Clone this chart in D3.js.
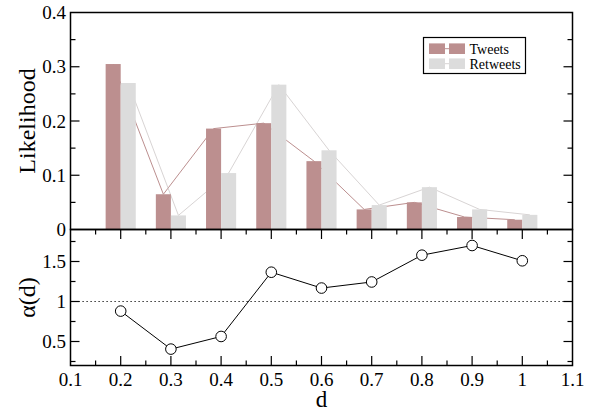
<!DOCTYPE html>
<html>
<head>
<meta charset="utf-8">
<script src="https://cdn.jsdelivr.net/npm/d3@7/dist/d3.min.js"></script>
<style>
  html, body { margin: 0; padding: 0; background: #fff; }
  svg { display: block; }
</style>
</head>
<body>
<svg id="chart" width="596" height="412"></svg>
<script>
// ---- data ----
const dValues   = [0.2, 0.3, 0.4, 0.5, 0.6, 0.7, 0.8, 0.9, 1.0];
const tweets    = [0.305, 0.065, 0.186, 0.196, 0.126, 0.037, 0.050, 0.023, 0.018];
const retweets  = [0.270, 0.026, 0.104, 0.267, 0.146, 0.045, 0.078, 0.037, 0.027];
const alphaVals = [0.88, 0.405, 0.563, 1.366, 1.168, 1.244, 1.579, 1.70, 1.509];
const xTicks    = [0.1, 0.2, 0.3, 0.4, 0.5, 0.6, 0.7, 0.8, 0.9, 1.0, 1.1];
const xTickLabels = ["0.1", "0.2", "0.3", "0.4", "0.5", "0.6", "0.7", "0.8", "0.9", "1", "1.1"];
const topTicks  = [0, 0.1, 0.2, 0.3, 0.4];
const topTickLabels = ["0", "0.1", "0.2", "0.3", "0.4"];
const botTicks  = [0.5, 1, 1.5];
const botTickLabels = ["0.5", "1", "1.5"];
const seriesNames = ["Tweets", "Retweets"];
const seriesColors = ["#bc8f8f", "#dcdcdc"];
const lineColors = ["#bc8f8f", "#d8d4d4"];

// ---- layout ----
const L = 70.5, R = 572.5;
const topY0 = 12.5, topY1 = 229.5, botY1 = 365.5;
const barW = 0.03;
const FONT = "'Liberation Serif', serif";

const svg = d3.select("#chart");
const x = d3.scaleLinear().domain([0.1, 1.1]).range([L, R]);
const yTop = d3.scaleLinear().domain([0, 0.4]).range([topY1, topY0]);
const yBot = d3.scaleLinear().domain([0.2, 1.9]).range([botY1, topY1]);

const minorX = d3.range(0.15, 1.1, 0.1);
const minorTop = d3.range(0.05, 0.4, 0.1);
const minorBot = [0.25, 0.75, 1.25, 1.75];

// ---- top panel: lines (behind bars) ----
const series = [tweets, retweets];
series.forEach((vals, si) => {
  const off = si === 0 ? -barW / 2 : barW / 2;
  const line = d3.line().x((v, i) => x(dValues[i] + off)).y(v => yTop(v));
  svg.append("path").datum(vals).attr("d", line)
    .attr("fill", "none").attr("stroke", lineColors[si]).attr("stroke-width", 1);
});
// bars
series.forEach((vals, si) => {
  svg.append("g").selectAll("rect").data(vals).join("rect")
    .attr("x", (v, i) => x(si === 0 ? dValues[i] - barW : dValues[i]))
    .attr("width", (v, i) => x(dValues[i] + barW) - x(dValues[i]))
    .attr("y", v => yTop(v))
    .attr("height", v => yTop(0) - yTop(v))
    .attr("fill", seriesColors[si]);
});

// ---- bottom panel ----
svg.append("line").attr("x1", L).attr("x2", R)
  .attr("y1", yBot(1)).attr("y2", yBot(1))
  .attr("stroke", "#000").attr("stroke-width", 1).attr("stroke-dasharray", "1.2,2.8");
svg.append("path").datum(alphaVals)
  .attr("d", d3.line().x((v, i) => x(dValues[i])).y(v => yBot(v)))
  .attr("fill", "none").attr("stroke", "#000").attr("stroke-width", 1);
svg.append("g").selectAll("circle").data(alphaVals).join("circle")
  .attr("cx", (v, i) => x(dValues[i])).attr("cy", v => yBot(v)).attr("r", 5.3)
  .attr("fill", "#fff").attr("stroke", "#000").attr("stroke-width", 1);

// ---- axes / frames ----
const frameW = 1.5;
function frame(y0, y1) {
  svg.append("rect").attr("x", L).attr("y", y0).attr("width", R - L).attr("height", y1 - y0)
    .attr("fill", "none").attr("stroke", "#000").attr("stroke-width", frameW);
}
frame(topY0, topY1);
frame(topY1, botY1);

function ticksV(vals, scale, len, sides) {
  vals.forEach(v => {
    const yy = scale(v);
    sides.forEach(s => {
      const x0 = s === "l" ? L : R;
      const x1 = s === "l" ? L + len : R - len;
      svg.append("line").attr("x1", x0).attr("x2", x1).attr("y1", yy).attr("y2", yy)
        .attr("stroke", "#000").attr("stroke-width", 1.2);
    });
  });
}
function ticksH(vals, len, y0, dir) {
  vals.forEach(v => {
    const xx = x(v);
    svg.append("line").attr("x1", xx).attr("x2", xx).attr("y1", y0).attr("y2", y0 + dir * len)
      .attr("stroke", "#000").attr("stroke-width", 1.2);
  });
}
ticksV(topTicks.slice(1, 4), yTop, 9, ["l", "r"]);
ticksV(minorTop, yTop, 5, ["l", "r"]);
ticksV(botTicks, yBot, 9, ["l", "r"]);
ticksV(minorBot, yBot, 5, ["l", "r"]);
ticksH(xTicks.slice(1, -1), 9.5, topY1, 1);
ticksH(minorX, 5, topY1, 1);
ticksH(xTicks.slice(1, -1), 9.5, botY1, -1);
ticksH(minorX, 5, botY1, -1);

function txt(xx, yy, s, size, anchor) {
  return svg.append("text").attr("x", xx).attr("y", yy).attr("text-anchor", anchor || "start")
    .attr("font-family", FONT).attr("font-size", size).attr("fill", "#000").text(s);
}
const tickFont = 19;
topTicks.forEach((v, i) => txt(66, yTop(v) + 6.5, topTickLabels[i], tickFont, "end"));
botTicks.forEach((v, i) => txt(66, yBot(v) + 6.5, botTickLabels[i], tickFont, "end"));
xTicks.forEach((v, i) => txt(x(v), 386, xTickLabels[i], tickFont, "middle"));

// axis titles
svg.append("text").attr("transform", `translate(35, ${(topY0 + topY1) / 2}) rotate(-90)`)
  .attr("text-anchor", "middle").attr("font-family", FONT).attr("font-size", 24)
  .attr("fill", "#000").text("Likelihood");
svg.append("text").attr("transform", `translate(35, ${(topY1 + botY1) / 2}) rotate(-90)`)
  .attr("text-anchor", "middle").attr("font-family", FONT).attr("font-size", 24)
  .attr("fill", "#000").text("α(d)");
txt((L + R) / 2, 407, "d", 23, "middle");

// legend
const lg = svg.append("g");
lg.append("rect").attr("x", 423.5).attr("y", 37.5).attr("width", 102).attr("height", 36)
  .attr("fill", "#fff").attr("stroke", "#000").attr("stroke-width", 1.2);
seriesNames.forEach((name, i) => {
  const cy = 48.7 + i * 15;
  lg.append("line").attr("x1", 437).attr("x2", 457).attr("y1", cy).attr("y2", cy)
    .attr("stroke", lineColors[i]).attr("stroke-width", 1);
  lg.append("rect").attr("x", 429).attr("y", cy - 5.3).attr("width", 16).attr("height", 10.6)
    .attr("fill", seriesColors[i]);
  lg.append("rect").attr("x", 449).attr("y", cy - 5.3).attr("width", 16).attr("height", 10.6)
    .attr("fill", seriesColors[i]);
  lg.append("text").attr("x", 469.5).attr("y", cy + 5).attr("font-family", FONT)
    .attr("font-size", 14).attr("fill", "#000").text(name);
});
</script>
</body>
</html>
